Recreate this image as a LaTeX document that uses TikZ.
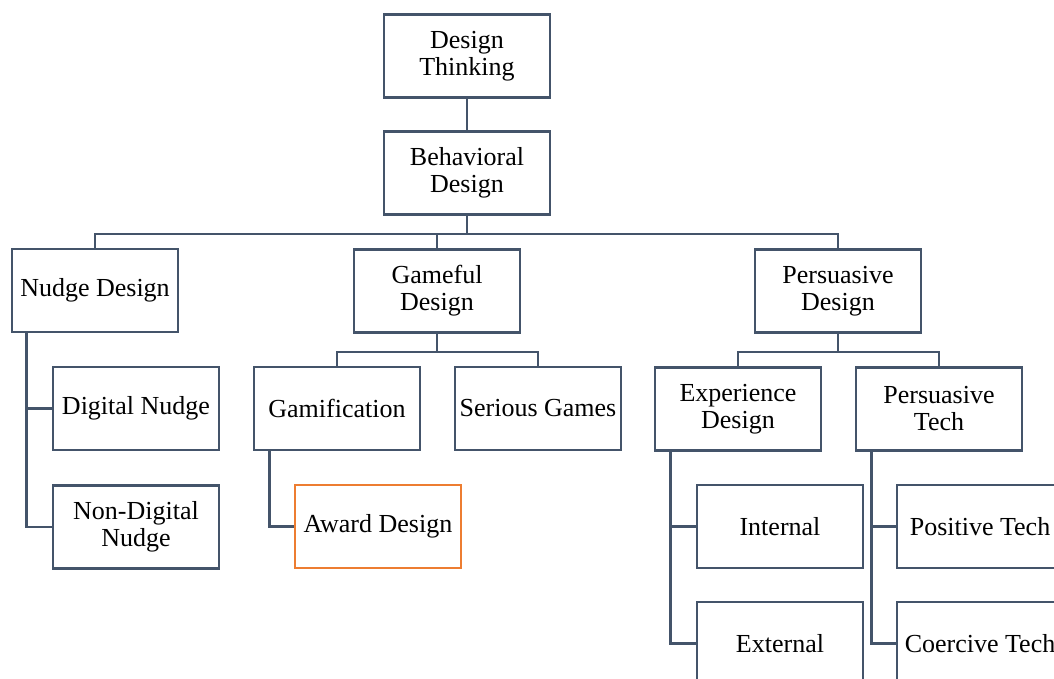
\documentclass[tikz,border=0pt]{standalone}
\usepackage{fontspec}
\setmainfont{Liberation Serif}
\definecolor{slate}{HTML}{44546A}
\definecolor{award}{HTML}{ED7D31}
\begin{document}
\begin{tikzpicture}[x=1pt,y=-1pt,
  box/.style={draw=slate,line width=2.8pt,fill=white,minimum width=166pt,minimum height=83pt,align=center,inner sep=2pt,font=\fontsize{26}{27}\selectfont},
  link/.style={draw=slate,line width=2.6pt}]
\clip (0,0) rectangle (1054,678);

\node[box] (dt) at (467,56) {Design\\Thinking};
\node[box] (bd) at (467,173) {Behavioral\\Design};
\node[box] (nd) at (95,290.5) {Nudge Design};
\node[box] (gd) at (437,291) {Gameful\\Design};
\node[box] (pd) at (838,291) {Persuasive\\Design};
\node[box] (dn) at (136,408.5) {Digital Nudge};
\node[box] (ndn) at (136,527) {Non-Digital\\Nudge};
\node[box] (gm) at (337,408.5) {Gamification};
\node[box] (sg) at (538,408.5) {Serious Games};
\node[box] (ed) at (738,409) {Experience\\Design};
\node[box] (pt) at (939,409) {Persuasive\\Tech};
\node[box,draw=award] (ad) at (378,526.5) {Award Design};
\node[box] (in) at (780,526.5) {Internal};
\node[box] (pos) at (980,526.5) {Positive Tech};
\node[box] (ex) at (780,643.5) {External};
\node[box] (co) at (980,643.5) {Coercive Tech};

\draw[link] (dt) -- (bd);
\draw[link] (bd.south) -- ++(0,18) -| (nd.north);
\draw[link] (bd.south) -- ++(0,18) -| (gd.north);
\draw[link] (bd.south) -- ++(0,18) -| (pd.north);
\draw[link] (gd.south) -- ++(0,18) -| (gm.north);
\draw[link] (gd.south) -- ++(0,18) -| (sg.north);
\draw[link] (pd.south) -- ++(0,18) -| (ed.north);
\draw[link] (pd.south) -- ++(0,18) -| (pt.north);
\draw[link] ([xshift=16]nd.south west) |- (dn.west);
\draw[link] ([xshift=16]nd.south west) |- (ndn.west);
\draw[link] ([xshift=17]gm.south west) |- (ad.west);
\draw[link] ([xshift=17]ed.south west) |- (in.west);
\draw[link] ([xshift=17]ed.south west) |- (ex.west);
\draw[link] ([xshift=17]pt.south west) |- (pos.west);
\draw[link] ([xshift=17]pt.south west) |- (co.west);
\end{tikzpicture}
\end{document}
